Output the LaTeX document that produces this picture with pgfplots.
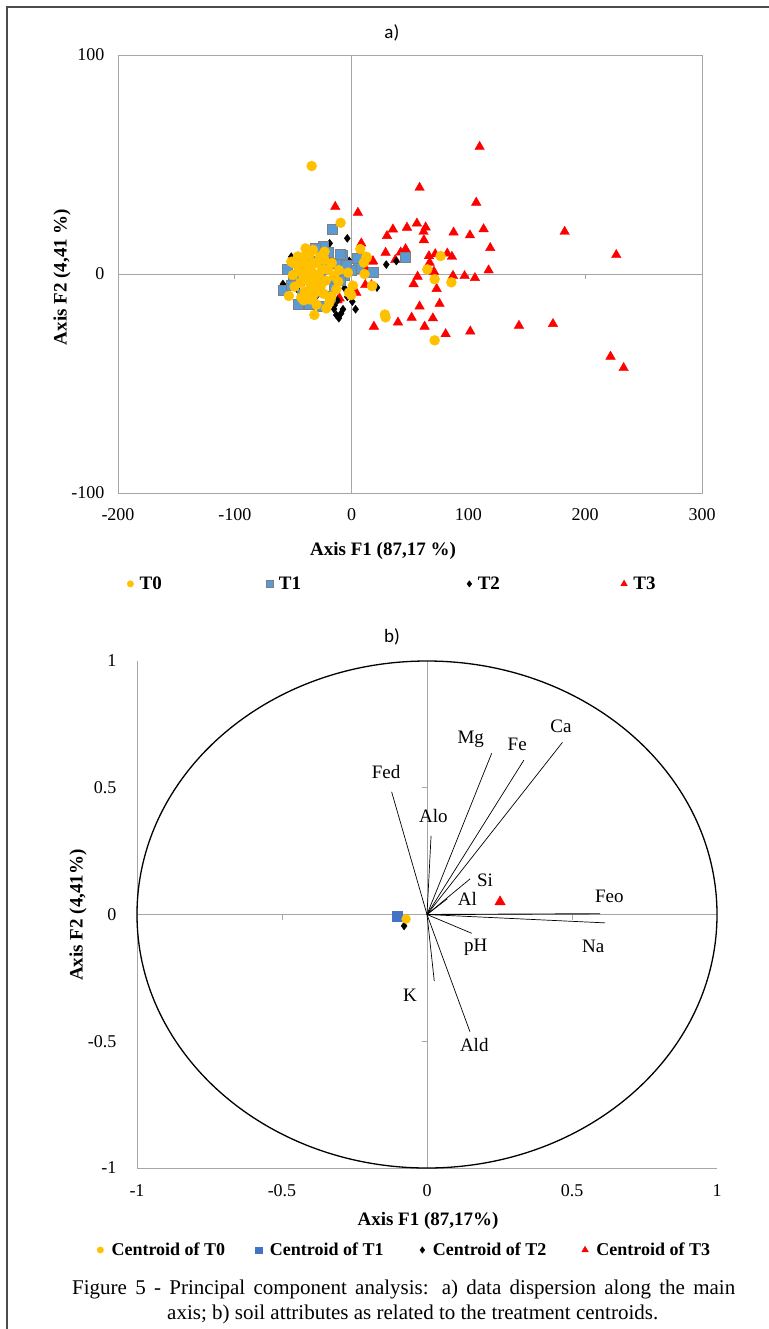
\documentclass[border=0pt]{standalone}
\usepackage{pgfplots}
\pgfplotsset{compat=1.18}
\usepackage{fontspec}
\setmainfont{Liberation Serif}
\newfontfamily\calibri{Carlito}
\definecolor{cT0}{HTML}{FFC000}
\definecolor{cT1}{HTML}{5B9BD5}
\definecolor{cT1b}{HTML}{4472C4}
\definecolor{cT3}{HTML}{FF0000}
\definecolor{frm}{HTML}{A6A6A6}
\definecolor{sqb}{HTML}{7F7F7F}
\pgfplotsset{
  every tick label/.append style={font=\fontsize{18bp}{20bp}\selectfont},
}
\begin{document}
\begin{tikzpicture}
\path[use as bounding box] (0,0) rectangle (769bp,-1329bp);
\draw[line width=1.5bp, gray!60!black] (7bp,-1329bp) -- (7bp,-7bp) -- (769bp,-7bp);

% ---------------- plot a : frame, labels, legend
\begin{axis}[
  at={(118bp,-493bp)}, anchor=south west,
  width=584bp, height=438bp, scale only axis,
  xmin=-200, xmax=300, ymin=-100, ymax=100,
  axis line style={frm, line width=0.8bp},
  xtick={-200,-100,0,100,200,300}, xticklabels={-200,-100,0,100,200,300},
  ytick={-100,0,100}, yticklabels={-100,0,100},
  major tick length=0pt,
  xticklabel shift=12bp, yticklabel shift=10bp,
  xlabel={\textbf{Axis F1 (87,17 \%)}}, ylabel={\textbf{Axis F2 (4,41 \%)}},
  label style={font=\fontsize{19bp}{21bp}\selectfont},
  xlabel style={at={(axis description cs:0.4538,-0.1324)}, anchor=center},
  ylabel style={at={(axis description cs:-0.0959,0.4932)}, anchor=center},
  title={a)}, title style={at={(axis description cs:0.469,1.036)}, anchor=center, font=\calibri\fontsize{19bp}{21bp}\selectfont},
  legend columns=4,
  legend style={at={(axis description cs:0.0154,-0.2075)}, anchor=west, draw=none, fill=none, inner sep=0pt, column sep=0pt,
    font=\bfseries\fontsize{19bp}{21bp}\selectfont, nodes={inner xsep=6bp, inner ysep=0pt}},
  legend image code/.code={\draw[#1] plot coordinates {(0bp,0bp)};},
]
\addlegendimage{mark=*, mark size=3.2bp, draw=cT0, fill=cT0}
\addlegendentry{\makebox[121bp][l]{T0}}
\addlegendimage{mark=square*, mark size=3.2bp, draw=sqb, fill=cT1}
\addlegendentry{\makebox[182bp][l]{T1}}
\addlegendimage{mark=diamond*, mark size=3.2bp, draw=black, fill=black}
\addlegendentry{\makebox[137bp][l]{T2}}
\addlegendimage{mark=triangle*, mark size=3.8bp, draw=cT3, fill=cT3}
\addlegendentry{T3}
\end{axis}

% ---------------- plot a : centre lines and data
\begin{axis}[
  at={(118bp,-493bp)}, anchor=south west,
  width=584bp, height=438bp, scale only axis,
  xmin=-200, xmax=300, ymin=-100, ymax=100,
  axis lines=middle, axis line style={frm, line width=0.8bp, -},
  xtick={-200,-100,0,100,200,300}, ytick={-100,0,100},
  xticklabels={}, yticklabels={},
  tick align=outside, major tick length=5bp, tick style={frm, line width=0.8bp},
]
\addplot[only marks, mark=triangle*, mark size=5.5bp, draw=cT3, fill=cT3] coordinates {
(109.6,58.1) (58.2,39.4) (106.7,32.6) (-14,30.7) (5.4,28) (182.4,19.3) (226.6,8.7)
(35.4,20.4) (30.3,17.4) (47.4,21.2) (55.9,23.1) (63.4,21.3) (61.6,19.3) (61.9,15.5)
(87.3,19) (101.3,17.7) (113,20.5) (118.7,11.9) (117.3,1.7) (8.3,14) (29.1,9.7)
(46.2,11.4) (42,9.9) (66.2,8.2) (71.6,9.1) (81.9,9.4) (85.9,7.9) (18.3,5.9) (37.4,6.4)
(66.8,5.2) (70.5,1.1) (56.5,-1.2) (53.1,-4.6) (86.8,-0.8) (96.7,-0.9) (105.6,-1.8)
(72.8,-6.8) (75.3,-13.6) (58.2,-14.8) (69.6,-20.2) (51.4,-19.9) (39.7,-22.1) (19.1,-24)
(62.5,-24) (80.5,-27.4) (101.6,-26.2) (143.3,-23.6) (172.4,-22.8) (221.7,-37.7)
(232.9,-42.9) (4,-8.5) (11.7,-5) (17,-5) (-10.3,-11.1) (12.6,2.1) (11.7,7.5) (17.7,5.6)
(-20.5,7.4) (-12,-12)
};
\addplot[only marks, mark=diamond*, mark size=4bp, draw=black, fill=black] coordinates {
(-3.7,16.3) (29.7,4.3) (38.3,5.9) (21.7,-6.2) (0.6,-12.6) (3.4,-16.1) (-7.4,-16.1)
(-13.1,-18.7) (-10.9,-20.2) (-6,-6.5) (-51.6,7.9) (-58.8,-4.6) (-21.7,8.7) (-18.8,14)
(-6,9.5) (-3.2,2.6) (-14.6,-14.2) (-3.7,-10.4) (-12,-12) (-45,-8) (-30,-10) (-25,3)
(-38,-1) (-8,-2) (-2,6) (-16,-4) (-48,4) (-9,-18) (-15,-16)
};
\addplot[only marks, mark=square*, mark size=5bp, draw=sqb, fill=cT1] coordinates {
(-16.9,20.4) (46,7.9) (18.8,0.6) (4.9,7.2) (-8,8.7) (-24.6,12.8) (-58.8,-7.3)
(-46,-13.8) (-36,-13.8) (-25.1,-14.9) (-50.3,-0.5) (-6,-0.5) (5.4,2.6) (-0.3,1.8)
(-20,10) (-12,5) (-30,6) (-40,3) (-45,-3) (-35,-5) (-28,-8) (-15,-6) (-10,-3) (-52,-5)
(-42,-9) (-22,3) (-5,4) (-27,-2) (-18,-10) (-38,8) (-55,2) (-10,9) (-31,12) (-14,-2)
};
\addplot[only marks, mark=*, mark size=5bp, draw=cT0, fill=cT0] coordinates {
(-34.2,49.3) (-9.4,23.4) (7.4,11.4) (13.1,7.5) (10.5,5.2) (76.2,8.2) (64.8,2.1)
(71.1,-2.4) (85.4,-3.8) (29.1,-19.8) (28.5,-18.5) (71.1,-30.3) (17.4,-5.5) (11.1,0)
(1.1,-5.3) (-3.1,0.6) (-10.9,1.8) (-2.3,-8.5) (-11.4,-3.5) (-13.1,-7) (-17.4,-10.3)
(-31.9,-18.7) (-53.7,-10) (-43.1,-10.7) (-36,-11.6) (-21.7,-15.7) (-18.8,-10.4)
(-48.8,-5.8) (-50.3,-0.5) (-49.4,4.9) (-39.4,11.7) (-33.1,11) (-23.1,10.2) (-23.1,6.4)
(-40,8) (-44,6) (-38,4) (-30,5) (-35,2) (-42,0) (-45,2) (-28,0) (-32,-2) (-38,-3)
(-44,-4) (-26,-5) (-30,-8) (-40,-8) (-35,-6) (-22,-3) (-20,2) (-27,8) (-46,8) (-36,9)
(-24,-9) (-15,-1) (-17,5) (-33,-10) (-41,-12) (-30,-14) (-19,-13) (12.6,7.9) (17.7,-5.3)
(-0.3,-9.6) (-51.6,5.6) (-37,-1) (-33,5) (-29,-4) (-41,4) (-25,2)
};
\end{axis}

% ---------------- plot b : frame, labels, legend
\begin{axis}[
  at={(137bp,-1168bp)}, anchor=south west,
  width=580bp, height=507bp, scale only axis,
  xmin=-1, xmax=1, ymin=-1, ymax=1,
  axis x line*=bottom, axis y line*=left,
  axis line style={frm, line width=0.8bp},
  xtick={-1,-0.5,0,0.5,1}, xticklabels={-1,-0.5,0,0.5,1},
  ytick={-1,-0.5,0,0.5,1}, yticklabels={-1,-0.5,0,0.5,1},
  major tick length=0pt,
  xticklabel shift=13bp, yticklabel shift=17bp,
  xlabel={\textbf{Axis F1 (87,17\%)}}, ylabel={\textbf{Axis F2 (4,41\%)}},
  label style={font=\fontsize{19bp}{21bp}\selectfont},
  xlabel style={at={(axis description cs:0.5017,-0.1045)}, anchor=center},
  ylabel style={at={(axis description cs:-0.1017,0.499)}, anchor=center},
  title={b)}, title style={at={(axis description cs:0.4397,1.035)}, anchor=center, font=\calibri\fontsize{19bp}{21bp}\selectfont},
  legend columns=4,
  legend style={at={(axis description cs:-0.069,-0.1617)}, anchor=west, draw=none, fill=none, inner sep=0pt, column sep=0pt,
    font=\bfseries\fontsize{18bp}{20bp}\selectfont, nodes={inner xsep=8bp, inner ysep=0pt}},
  legend image code/.code={\draw[#1] plot coordinates {(0bp,0bp)};},
]
\addlegendimage{mark=*, mark size=3.2bp, draw=cT0, fill=cT0}
\addlegendentry{\makebox[136bp][l]{Centroid of T0}}
\addlegendimage{mark=square*, mark size=3.2bp, draw=cT1b, fill=cT1b}
\addlegendentry{\makebox[142bp][l]{Centroid of T1}}
\addlegendimage{mark=diamond*, mark size=3.2bp, draw=black, fill=black}
\addlegendentry{\makebox[141bp][l]{Centroid of T2}}
\addlegendimage{mark=triangle*, mark size=3.8bp, draw=cT3, fill=cT3}
\addlegendentry{Centroid of T3}
\end{axis}

% ---------------- plot b : circle, vectors, centroids
\begin{axis}[
  at={(137bp,-1168bp)}, anchor=south west,
  width=580bp, height=507bp, scale only axis,
  xmin=-1, xmax=1, ymin=-1, ymax=1,
  axis lines=middle, axis line style={frm, line width=0.8bp, -},
  xtick={-0.5,0.5}, ytick={-0.5,0.5},
  xticklabels={}, yticklabels={},
  tick align=outside, major tick length=5bp, tick style={frm, line width=0.8bp},
  clip=false,
  nodes={font=\fontsize{19bp}{21bp}\selectfont},
]
\draw[black, line width=1.3bp] (axis cs:0,0) ellipse [x radius=1, y radius=1];
\addplot[black, line width=0.7bp] coordinates {(0,0) (-0.122,0.484)};
\addplot[black, line width=0.7bp] coordinates {(0,0) (0.014,0.31)};
\addplot[black, line width=0.7bp] coordinates {(0,0) (0.223,0.636)};
\addplot[black, line width=0.7bp] coordinates {(0,0) (0.334,0.609)};
\addplot[black, line width=0.7bp] coordinates {(0,0) (0.467,0.679)};
\addplot[black, line width=0.7bp] coordinates {(0,0) (0.149,0.141)};
\addplot[black, line width=0.7bp] coordinates {(0,0) (0.07,0.062)};
\addplot[black, line width=0.9bp] coordinates {(0,0) (0.597,0.003)};
\addplot[black, line width=0.7bp] coordinates {(0,0) (0.614,-0.033)};
\addplot[black, line width=0.7bp] coordinates {(0,0) (0.154,-0.074)};
\addplot[black, line width=0.7bp] coordinates {(0,0) (0.025,-0.262)};
\addplot[black, line width=0.7bp] coordinates {(0,0) (0.148,-0.462)};
\node at (axis cs:0.151,0.691) {Mg};
\node at (axis cs:0.311,0.671) {Fe};
\node at (axis cs:0.462,0.741) {Ca};
\node at (axis cs:-0.141,0.563) {Fed};
\node at (axis cs:0.022,0.39) {Alo};
\node at (axis cs:0.2,0.136) {Si};
\node at (axis cs:0.139,0.06) {Al};
\node at (axis cs:0.629,0.07) {Feo};
\node at (axis cs:0.573,-0.127) {Na};
\node at (axis cs:0.168,-0.131) {pH};
\node at (axis cs:-0.059,-0.318) {K};
\node at (axis cs:0.163,-0.515) {Ald};
\addplot[only marks, mark=diamond*, mark size=4bp, draw=black, fill=black] coordinates {(-0.079,-0.045)};
\addplot[only marks, mark=square*, mark size=5bp, draw=cT1b, fill=cT1b] coordinates {(-0.104,-0.008)};
\addplot[only marks, mark=*, mark size=4.5bp, draw=cT0, fill=cT0] coordinates {(-0.072,-0.018)};
\addplot[only marks, mark=triangle*, mark size=6bp, draw=cT3, fill=cT3] coordinates {(0.252,0.05)};
\end{axis}

% ---------------- caption
\node[anchor=base west, inner sep=0pt, font=\fontsize{21bp}{24bp}\selectfont] at (72bp,-1294bp)
  {\makebox[663bp][s]{Figure 5 - Principal component analysis: a) data dispersion along the main}};
\node[anchor=base west, inner sep=0pt, font=\fontsize{21bp}{24bp}\selectfont] at (167bp,-1319bp)
  {axis; b) soil attributes as related to the treatment centroids.};
\end{tikzpicture}
\end{document}
